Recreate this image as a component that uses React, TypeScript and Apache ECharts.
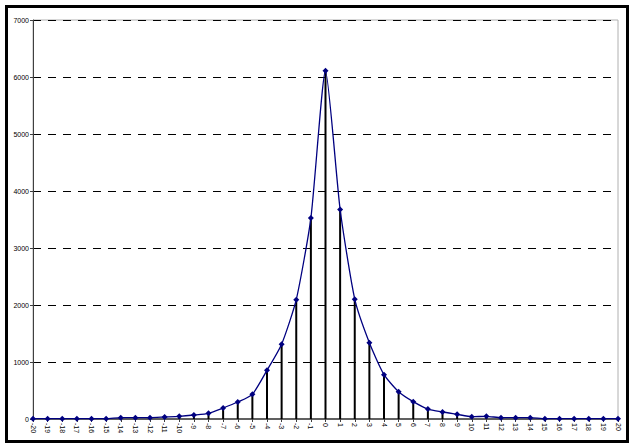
import React, { useEffect, useRef } from "react";
import * as echarts from "echarts";

const categories: string[] = [];
for (let i = -20; i <= 20; i++) categories.push(String(i));

const leftValues = [5, 5, 5, 5, 5, 5, 23, 23, 23, 35, 47, 70, 100, 193, 298, 433, 854, 1312, 2093, 3525];
const centerValue = [6110];
const rightValues = [3675, 2102, 1337, 778, 479, 304, 175, 123, 82, 40, 47, 23, 23, 23, 5, 5, 5, 5, 5, 5];
const values = [...leftValues, ...centerValue, ...rightValues];

const yTicks = { min: 0, max: 7000, interval: 1000 };

export default function App() {
  const ref = useRef<HTMLDivElement>(null);
  useEffect(() => {
    if (!ref.current) return;
    const chart = echarts.init(ref.current, null, { renderer: "svg" });
    chart.setOption({
      animation: false,
      backgroundColor: "#ffffff",
      grid: {
        left: 33,
        right: 12,
        top: 20,
        bottom: 25,
        show: true,
        borderColor: "#b0b0b0",
        borderWidth: 1,
      },
      xAxis: {
        type: "category",
        data: categories,
        boundaryGap: false,
        axisLine: { show: true, lineStyle: { color: "#606060", width: 2 } },
        axisTick: { show: true, alignWithLabel: true, length: 3, lineStyle: { color: "#404040" } },
        axisLabel: {
          interval: 0,
          rotate: -90,
          fontSize: 7,
          fontFamily: "Liberation Sans, Arial, sans-serif",
          color: "#000",
          margin: 4,
        },
      },
      yAxis: {
        type: "value",
        min: yTicks.min,
        max: yTicks.max,
        interval: yTicks.interval,
        axisLine: { show: true, lineStyle: { color: "#404040", width: 1 } },
        axisTick: { show: true, length: 3, lineStyle: { color: "#404040" } },
        axisLabel: {
          fontSize: 7,
          fontFamily: "Liberation Sans, Arial, sans-serif",
          color: "#000",
          margin: 4,
          formatter: (v: number) => String(v),
        },
        splitLine: { show: true, lineStyle: { color: "#000", type: [8, 7], width: 1 } },
      },
      series: [
        {
          type: "bar",
          data: values,
          barWidth: 2,
          itemStyle: { color: "#000" },
          z: 2,
        },
        {
          type: "line",
          data: values,
          smooth: 0.2,
          symbol: "diamond",
          symbolSize: 6,
          lineStyle: { color: "#000080", width: 1.3 },
          itemStyle: { color: "#000080" },
          z: 3,
        },
      ],
    });
    return () => chart.dispose();
  }, []);
  return (
    <div style={{ position: "fixed", left: 0, top: 0, width: 630, height: 444, background: "#fff" }}>
      <div ref={ref} style={{ position: "absolute", left: 0, top: 0, width: 630, height: 444 }} />
      <div
        style={{
          position: "absolute",
          left: 5,
          top: 5,
          width: 618,
          height: 432,
          border: "3px solid #000",
          pointerEvents: "none",
        }}
      />
    </div>
  );
}
